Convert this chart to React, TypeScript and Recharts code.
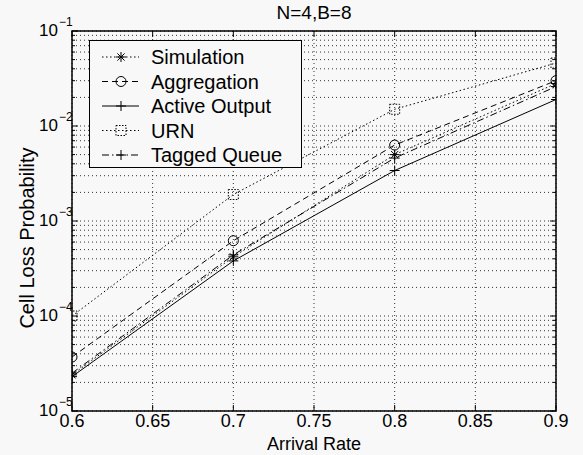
import React from 'react';
import { LineChart, Line, XAxis, YAxis, CartesianGrid, Legend, ReferenceArea, Customized } from 'recharts';

// ---------------- data ----------------
const arrivalRates = [0.6, 0.7, 0.8, 0.9];
const simulation = [2.4e-5, 4.2e-4, 5.0e-3, 2.8e-2];
const aggregation = [3.7e-5, 6.2e-4, 6.3e-3, 3.0e-2];
const activeOutput = [2.3e-5, 3.8e-4, 3.4e-3, 1.9e-2];
const urn = [1.0e-4, 1.9e-3, 1.5e-2, 4.6e-2];
const taggedQueue = [2.5e-5, 4.4e-4, 4.6e-3, 2.6e-2];

const seriesNames = ['Simulation', 'Aggregation', 'Active Output', 'URN', 'Tagged Queue'];

const xTicks = [0.6, 0.65, 0.7, 0.75, 0.8, 0.85, 0.9];
const xTickLabels = ['0.6', '0.65', '0.7', '0.75', '0.8', '0.85', '0.9'];
const yDecadeExponents = [-5, -4, -3, -2, -1];
const yDecadeLabels = ['\u22125', '\u22124', '\u22123', '\u22122', '\u22121'];

const title = 'N=4,B=8';
const xTitle = 'Arrival Rate';
const yTitle = 'Cell Loss Probability';

// ---------------- derived ----------------
const yTicks: number[] = [];
yDecadeExponents.forEach((e, i) => {
  if (i === yDecadeExponents.length - 1) {
    yTicks.push(Math.pow(10, e));
  } else {
    for (let m = 1; m <= 9; m++) yTicks.push(m * Math.pow(10, e));
  }
});

const data = arrivalRates.map((x, i) => ({
  x,
  sim: simulation[i],
  agg: aggregation[i],
  act: activeOutput[i],
  urn: urn[i],
  tag: taggedQueue[i],
}));

// ---------------- styling ----------------
const FONT = 'Liberation Sans, Arial, Helvetica, sans-serif';
const W = 583;
const H = 455;
const Y_AXIS_W = 60;
const X_AXIS_H = 30;
const M = { top: 31, right: 27, bottom: 14, left: 12 };
const PL = M.left + Y_AXIS_W;
const PR = W - M.right;
const PT = M.top;
const PB = H - M.bottom - X_AXIS_H;
const BG = '#f8f8f8';

type Shape = 'star' | 'circle' | 'plus' | 'square' | 'plus2';

const seriesStyle: { key: string; dash?: string; shape: Shape }[] = [
  { key: 'sim', dash: '1.5 2.5', shape: 'star' },
  { key: 'agg', dash: '6 4', shape: 'circle' },
  { key: 'act', dash: undefined, shape: 'plus' },
  { key: 'urn', dash: '1.5 2.5', shape: 'square' },
  { key: 'tag', dash: '7 3 1.5 3', shape: 'plus2' },
];

function marker(shape: Shape, cx: number, cy: number, key?: string) {
  const s = 5;
  const common = { stroke: '#000', strokeWidth: 1, fill: 'none' };
  if (shape === 'circle') return <circle key={key} cx={cx} cy={cy} r={s} {...common} />;
  if (shape === 'square')
    return <rect key={key} x={cx - s} y={cy - s} width={2 * s} height={2 * s} {...common} strokeDasharray="1.5 1.5" />;
  if (shape === 'plus' || shape === 'plus2')
    return (
      <g key={key} {...common}>
        <line x1={cx - s} x2={cx + s} y1={cy} y2={cy} />
        <line x1={cx} x2={cx} y1={cy - s} y2={cy + s} />
      </g>
    );
  const d = s * 0.72;
  return (
    <g key={key} {...common}>
      <line x1={cx - s} x2={cx + s} y1={cy} y2={cy} />
      <line x1={cx} x2={cx} y1={cy - s} y2={cy + s} />
      <line x1={cx - d} x2={cx + d} y1={cy - d} y2={cy + d} />
      <line x1={cx - d} x2={cx + d} y1={cy + d} y2={cy - d} />
    </g>
  );
}

const makeDot = (shape: Shape) => (props: any) => {
  const { cx, cy, index } = props;
  if (cx == null || cy == null) return <g key={`e${index}`} />;
  return marker(shape, cx, cy, `${shape}-${index}`);
};

const renderYTick = (props: any) => {
  const { y, payload, index } = props;
  const v = payload.value;
  const lg = Math.log10(v);
  const isDecade = Math.abs(lg - Math.round(lg)) < 1e-6;
  const len = isDecade ? 6 : 3;
  const idx = yDecadeExponents.indexOf(Math.round(lg));
  return (
    <g key={`yt-${index}`}>
      <line x1={PL} x2={PL + len} y1={y} y2={y} stroke="#000" />
      <line x1={PR} x2={PR - len} y1={y} y2={y} stroke="#000" />
      {isDecade && idx >= 0 && (
        <g fontFamily={FONT} fill="#000">
          <text x={58} y={y + 5} textAnchor="end" fontSize={17}>
            10
          </text>
          <text x={59} y={y - 5} textAnchor="start" fontSize={12}>
            {yDecadeLabels[idx]}
          </text>
        </g>
      )}
    </g>
  );
};

const renderXTick = (props: any) => {
  const { x, payload, index } = props;
  const idx = xTicks.findIndex((t) => Math.abs(t - payload.value) < 1e-9);
  return (
    <g key={`xt-${index}`}>
      <line x1={x} x2={x} y1={PB} y2={PB - 6} stroke="#000" />
      <line x1={x} x2={x} y1={PT} y2={PT + 6} stroke="#000" />
      <text x={x} y={PB + 16} textAnchor="middle" fontSize={18} fontFamily={FONT} fill="#000">
        {idx >= 0 ? xTickLabels[idx] : ''}
      </text>
    </g>
  );
};

const renderLegend = () => (
  <div
    style={{
      width: 213,
      height: 128,
      border: '1.5px solid #000',
      background: BG,
      boxSizing: 'border-box',
    }}
  >
    <svg width={210} height={125} style={{ display: 'block' }}>
      {seriesNames.map((name, i) => {
        const st = seriesStyle[i];
        const cy = 16 + i * 24.5;
        return (
          <g key={name}>
            <line x1={12} x2={49} y1={cy} y2={cy} stroke="#000" strokeDasharray={st.dash} />
            {marker(st.shape, 31, cy)}
            <text x={61} y={cy + 7} fontSize={20} fontFamily={FONT} fill="#000">
              {name}
            </text>
          </g>
        );
      })}
    </svg>
  </div>
);

const Titles = () => (
  <g fontFamily={FONT} fill="#000">
    <text x={(PL + PR) / 2} y={19} textAnchor="middle" fontSize={19}>
      {title}
    </text>
    <text x={(PL + PR) / 2} y={450} textAnchor="middle" fontSize={18}>
      {xTitle}
    </text>
    <text
      x={34}
      y={(PT + PB) / 2 + 17}
      textAnchor="middle"
      fontSize={20}
      transform={`rotate(-90, 34, ${(PT + PB) / 2 + 17})`}
    >
      {yTitle}
    </text>
  </g>
);

export default function App() {
  return (
    <div style={{ position: 'absolute', left: 0, top: 0, width: W, height: H, background: BG }}>
      <LineChart width={W} height={H} data={data} margin={M}>
        <CartesianGrid stroke="#333" strokeDasharray="1 3" strokeWidth={1} />
        <XAxis
          dataKey="x"
          type="number"
          domain={[0.6, 0.9]}
          ticks={xTicks}
          height={X_AXIS_H}
          axisLine={false}
          tickLine={false}
          tick={renderXTick}
          allowDataOverflow
          interval={0}
        />
        <YAxis
          scale="log"
          type="number"
          domain={[1e-5, 1e-1]}
          ticks={yTicks}
          width={Y_AXIS_W}
          axisLine={false}
          tickLine={false}
          tick={renderYTick}
          allowDataOverflow
          interval={0}
        />
        {seriesStyle.map((st, i) => (
          <Line
            key={st.key}
            dataKey={st.key}
            name={seriesNames[i]}
            type="linear"
            stroke="#000"
            strokeWidth={1}
            strokeDasharray={st.dash}
            dot={makeDot(st.shape)}
            activeDot={false}
            isAnimationActive={false}
          />
        ))}
        <ReferenceArea
          x1={0.6}
          x2={0.9}
          y1={1e-5}
          y2={1e-1}
          fill="none"
          stroke="#000"
          strokeWidth={1.5}
          fillOpacity={0}
          ifOverflow="visible"
        />
        <Legend
          layout="vertical"
          align="center"
          verticalAlign="middle"
          content={renderLegend}
          wrapperStyle={{ position: 'absolute', left: 89, top: 40, width: 213, height: 128 }}
        />
        <Customized component={Titles} />
      </LineChart>
    </div>
  );
}
